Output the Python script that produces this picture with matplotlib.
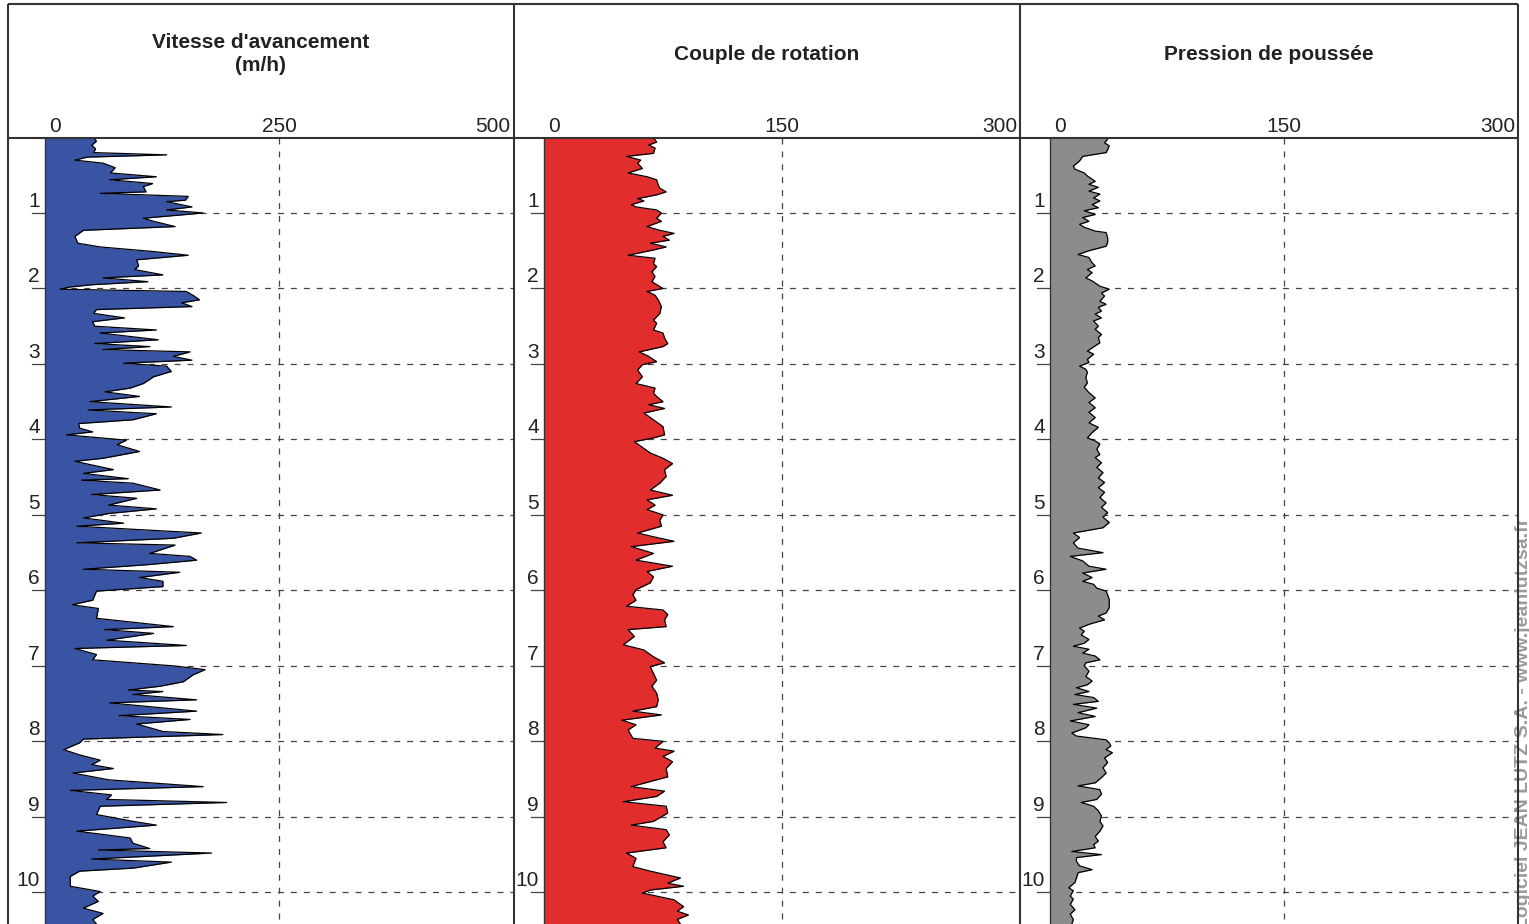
import matplotlib
matplotlib.use("Agg")
import matplotlib.pyplot as plt
from matplotlib.transforms import blended_transform_factory

plt.rcParams['font.family'] = ['Liberation Sans', 'DejaVu Sans']
plt.rcParams['lines.scale_dashes'] = False

# ---------------- data ----------------
titles = ["Vitesse d'avancement\n(m/h)", "Couple de rotation", "Pression de poussée"]
x_ticks = [[0, 250, 500], [0, 150, 300], [0, 150, 300]]
depth_ticks = [1, 2, 3, 4, 5, 6, 7, 8, 9, 10]
depth_max = 10.42

speed_depth = [0.00, 0.05, 0.10, 0.15, 0.20, 0.23, 0.26, 0.30, 0.34, 0.40, 0.47, 0.52, 0.56, 0.61,
               0.65, 0.72, 0.74, 0.78, 0.83, 0.85, 0.92, 0.96, 1.00, 1.07, 1.11, 1.18, 1.23, 1.31,
               1.40, 1.45, 1.51, 1.56, 1.62, 1.70, 1.75, 1.82, 1.86, 1.91, 1.95, 1.98, 2.01, 2.04,
               2.09, 2.15, 2.19, 2.24, 2.28, 2.33, 2.39, 2.44, 2.50, 2.55, 2.59, 2.62, 2.68, 2.73,
               2.77, 2.81, 2.84, 2.90, 2.95, 2.99, 3.03, 3.10, 3.17, 3.26, 3.32, 3.37, 3.43, 3.50,
               3.57, 3.61, 3.66, 3.74, 3.79, 3.85, 3.90, 3.94, 4.01, 4.07, 4.16, 4.25, 4.29, 4.40,
               4.45, 4.52, 4.54, 4.58, 4.67, 4.73, 4.78, 4.87, 4.92, 4.98, 5.04, 5.11, 5.15, 5.24,
               5.31, 5.37, 5.40, 5.51, 5.55, 5.60, 5.66, 5.72, 5.76, 5.83, 5.88, 5.95, 6.01, 6.13,
               6.19, 6.24, 6.37, 6.48, 6.52, 6.57, 6.66, 6.73, 6.77, 6.85, 6.92, 7.00, 7.05, 7.12,
               7.21, 7.27, 7.32, 7.34, 7.38, 7.45, 7.49, 7.60, 7.66, 7.71, 7.77, 7.87, 7.91, 7.97,
               8.02, 8.11, 8.18, 8.25, 8.31, 8.36, 8.42, 8.51, 8.60, 8.65, 8.71, 8.77, 8.81, 8.86,
               8.97, 9.06, 9.11, 9.19, 9.28, 9.35, 9.42, 9.44, 9.48, 9.56, 9.60, 9.68, 9.72, 9.79,
               9.92, 9.99, 10.05, 10.12, 10.21, 10.28, 10.36, 10.42]
speed_value = [52, 55, 50, 54, 52, 130, 45, 32, 62, 75, 70, 119, 69, 115,
               105, 108, 59, 153, 150, 130, 157, 130, 169, 105, 116, 139, 41, 32,
               35, 59, 115, 153, 98, 100, 96, 126, 62, 110, 51, 27, 16, 151,
               158, 165, 146, 157, 55, 52, 85, 51, 53, 119, 59, 80, 121, 53,
               112, 62, 155, 137, 157, 84, 130, 135, 116, 105, 91, 64, 101, 48,
               135, 46, 119, 94, 36, 37, 51, 23, 87, 77, 101, 62, 32, 73,
               41, 89, 39, 94, 123, 50, 98, 68, 119, 69, 41, 84, 34, 167,
               137, 34, 139, 112, 155, 162, 109, 41, 144, 101, 126, 126, 55, 51,
               29, 57, 55, 137, 64, 116, 66, 151, 32, 55, 51, 137, 171, 158,
               148, 123, 89, 126, 94, 162, 69, 162, 79, 155, 98, 126, 190, 41,
               37, 20, 37, 59, 50, 73, 30, 68, 169, 27, 71, 66, 194, 59,
               55, 94, 119, 34, 91, 94, 112, 57, 178, 50, 135, 94, 37, 27,
               27, 59, 51, 57, 41, 62, 51, 55]

torque_depth = [0.00, 0.06, 0.10, 0.14, 0.21, 0.25, 0.30, 0.34, 0.41, 0.47, 0.52, 0.56, 0.63, 0.67,
                0.72, 0.76, 0.81, 0.84, 0.89, 0.92, 0.96, 1.00, 1.07, 1.11, 1.18, 1.23, 1.27, 1.31,
                1.36, 1.40, 1.45, 1.49, 1.56, 1.60, 1.67, 1.71, 1.78, 1.84, 1.91, 2.00, 2.04, 2.09,
                2.15, 2.24, 2.33, 2.42, 2.46, 2.55, 2.59, 2.66, 2.73, 2.77, 2.84, 2.90, 2.97, 3.01,
                3.08, 3.17, 3.26, 3.32, 3.39, 3.43, 3.50, 3.54, 3.59, 3.65, 3.74, 3.83, 3.94, 3.98,
                4.03, 4.09, 4.18, 4.25, 4.32, 4.40, 4.49, 4.58, 4.67, 4.74, 4.80, 4.87, 4.93, 5.00,
                5.07, 5.15, 5.24, 5.29, 5.35, 5.42, 5.51, 5.60, 5.68, 5.75, 5.82, 5.90, 5.99, 6.06,
                6.13, 6.21, 6.26, 6.32, 6.39, 6.48, 6.52, 6.61, 6.72, 6.79, 6.88, 6.96, 7.01, 7.10,
                7.19, 7.27, 7.36, 7.45, 7.54, 7.60, 7.65, 7.72, 7.78, 7.85, 7.96, 8.00, 8.09, 8.13,
                8.20, 8.27, 8.36, 8.47, 8.60, 8.66, 8.73, 8.80, 8.86, 8.95, 9.06, 9.11, 9.17, 9.24,
                9.33, 9.41, 9.48, 9.55, 9.66, 9.72, 9.81, 9.88, 9.92, 9.97, 10.01, 10.10, 10.19, 10.25,
                10.30, 10.36, 10.42]
torque_value = [69, 71, 66, 70, 69, 52, 61, 59, 62, 53, 65, 71, 72, 73,
                77, 71, 59, 63, 55, 58, 71, 74, 71, 74, 65, 73, 82, 75,
                79, 67, 77, 69, 53, 70, 69, 71, 68, 70, 68, 75, 65, 70,
                72, 74, 73, 69, 71, 69, 75, 76, 78, 75, 60, 66, 71, 62,
                59, 62, 58, 70, 69, 71, 75, 66, 76, 63, 69, 75, 76, 69,
                57, 61, 67, 75, 81, 76, 77, 73, 67, 81, 65, 70, 65, 75,
                73, 74, 59, 69, 82, 55, 69, 58, 81, 65, 69, 67, 58, 56,
                58, 52, 75, 78, 76, 77, 53, 57, 50, 63, 69, 76, 67, 69,
                71, 68, 71, 72, 71, 56, 74, 49, 58, 53, 56, 75, 70, 82,
                75, 81, 77, 78, 55, 76, 71, 50, 77, 78, 69, 55, 77, 79,
                75, 77, 52, 58, 56, 67, 86, 78, 88, 67, 62, 82, 88, 84,
                91, 84, 86]

thrust_depth = [0.00, 0.02, 0.07, 0.11, 0.16, 0.20, 0.25, 0.31, 0.38, 0.42, 0.47, 0.51, 0.58, 0.62,
                0.66, 0.71, 0.75, 0.80, 0.84, 0.89, 0.93, 0.97, 1.02, 1.06, 1.11, 1.15, 1.19, 1.24,
                1.26, 1.33, 1.39, 1.44, 1.50, 1.55, 1.59, 1.66, 1.70, 1.75, 1.79, 1.86, 1.90, 1.97,
                2.01, 2.06, 2.10, 2.17, 2.21, 2.25, 2.30, 2.34, 2.39, 2.43, 2.50, 2.54, 2.61, 2.65,
                2.72, 2.76, 2.83, 2.87, 2.94, 2.98, 3.03, 3.07, 3.11, 3.18, 3.25, 3.31, 3.38, 3.45,
                3.51, 3.58, 3.64, 3.71, 3.78, 3.84, 3.91, 3.98, 4.02, 4.06, 4.13, 4.20, 4.24, 4.31,
                4.37, 4.44, 4.51, 4.57, 4.64, 4.70, 4.77, 4.84, 4.90, 4.97, 5.03, 5.10, 5.17, 5.24,
                5.30, 5.37, 5.44, 5.50, 5.55, 5.61, 5.68, 5.72, 5.77, 5.83, 5.88, 5.92, 5.97, 6.01,
                6.06, 6.12, 6.23, 6.30, 6.34, 6.39, 6.45, 6.50, 6.54, 6.59, 6.65, 6.70, 6.74, 6.78,
                6.83, 6.87, 6.92, 6.96, 7.00, 7.07, 7.14, 7.20, 7.25, 7.29, 7.34, 7.38, 7.42, 7.47,
                7.51, 7.56, 7.62, 7.67, 7.73, 7.78, 7.82, 7.89, 7.93, 7.98, 8.02, 8.06, 8.11, 8.15,
                8.22, 8.28, 8.35, 8.42, 8.48, 8.55, 8.59, 8.64, 8.70, 8.77, 8.81, 8.86, 8.92, 8.99,
                9.06, 9.12, 9.19, 9.26, 9.32, 9.37, 9.41, 9.46, 9.50, 9.54, 9.59, 9.65, 9.70, 9.74,
                9.81, 9.87, 9.94, 9.98, 10.05, 10.09, 10.16, 10.23, 10.29, 10.36, 10.42]
thrust_value = [37, 37, 35, 38, 37, 36, 21, 19, 15, 16, 22, 24, 29, 25,
                31, 25, 32, 28, 32, 27, 31, 22, 29, 21, 25, 19, 22, 29,
                36, 37, 37, 36, 25, 18, 25, 27, 29, 24, 27, 23, 27, 32,
                38, 33, 35, 32, 36, 31, 33, 29, 33, 28, 31, 29, 33, 31,
                32, 29, 24, 28, 24, 25, 19, 23, 24, 23, 24, 22, 25, 29,
                25, 29, 25, 29, 25, 31, 27, 24, 29, 32, 30, 32, 29, 33,
                30, 34, 31, 35, 31, 35, 32, 36, 33, 37, 34, 38, 34, 15,
                19, 15, 18, 34, 13, 21, 25, 36, 21, 27, 21, 28, 30, 36,
                37, 38, 38, 36, 31, 35, 25, 19, 22, 20, 25, 22, 15, 25,
                21, 29, 32, 23, 22, 25, 23, 27, 24, 17, 25, 16, 28, 31,
                15, 30, 18, 29, 13, 25, 23, 14, 17, 36, 38, 39, 36, 40,
                35, 37, 34, 36, 33, 29, 18, 32, 33, 30, 20, 28, 31, 33,
                32, 34, 32, 29, 31, 28, 29, 14, 33, 17, 17, 19, 27, 18,
                17, 16, 12, 15, 13, 15, 13, 16, 13, 15, 14]

series_depth = [speed_depth, torque_depth, thrust_depth]
series_value = [speed_value, torque_value, thrust_value]
fill_colors = ["#3a54a4", "#e22d2d", "#8c8c8c"]

# ---------------- layout (figure pixels) ----------------
W, H = 1529, 924
frame_top, header_bottom = 4, 137.5
panel_edges = [(8, 514), (514, 1020), (1020, 1518)]
x_limits = [(-39.5, 501), (-18.9, 300), (-19.2, 300)]
ink = "#222222"
grid_col = "#444444"
dash = (4.3, 5.0)

fig = plt.figure(figsize=(W / 100, H / 100), dpi=100)

# overlay for frame lines and header texts, in pixel units
ov = fig.add_axes([0, 0, 1, 1], zorder=5)
ov.set_xlim(0, W)
ov.set_ylim(H, 0)
ov.axis("off")
ov.patch.set_alpha(0)

for i, ((x0, x1), xl) in enumerate(zip(panel_edges, x_limits)):
    ax = fig.add_axes([x0 / W, 0, (x1 - x0) / W, (H - header_bottom) / H])
    ax.set_xlim(*xl)
    ax.set_ylim(depth_max, 0)
    ax.axis("off")

    px_per_unit = (x1 - x0) / (xl[1] - xl[0])
    stub = -13 / px_per_unit

    # depth grid
    for d in depth_ticks:
        ax.plot([stub, 0], [d, d], color=grid_col, lw=0.9, zorder=1)
        ax.plot([0, xl[1]], [d, d], color=grid_col, lw=0.9, dashes=dash, zorder=1)
        ax.annotate(str(d), xy=(0, d), xytext=(-5, 6), textcoords="offset pixels",
                    ha="right", va="baseline", fontsize=15, color=ink)
    ax.plot([x_ticks[i][1]] * 2, [0, depth_max], color=grid_col, lw=0.9, dashes=dash, zorder=1)

    # profile
    dep = series_depth[i]
    val = series_value[i]
    ax.fill_betweenx(dep, 0, val, color=fill_colors[i], lw=0, zorder=2)
    ax.plot(val, dep, color="black", lw=0.9, zorder=3)
    ax.plot([0, 0], [0, depth_max], color="#333333", lw=1.0, zorder=3)

    # header texts
    cx = (x0 + x1) / 2
    ov.text(cx, 54, titles[i], ha="center", va="center", fontsize=15,
            fontweight="bold", color=ink, linespacing=1.3)
    tr = blended_transform_factory(ax.transData, ov.transData)
    t0, t1, t2 = x_ticks[i]
    ov.annotate(str(t0), xy=(t0, 132), xycoords=tr, xytext=(4, 0), textcoords="offset pixels",
                ha="left", va="baseline", fontsize=15, color=ink)
    ov.annotate(str(t1), xy=(t1, 132), xycoords=tr, ha="center", va="baseline",
                fontsize=15, color=ink)
    ov.annotate(str(t2), xy=(t2, 132), xycoords=tr, xytext=(-3, 0), textcoords="offset pixels",
                ha="right", va="baseline", fontsize=15, color=ink)

# frame
frame_kw = dict(color="#333333", lw=1.5, solid_capstyle="butt")
ov.plot([8, 1518], [frame_top, frame_top], **frame_kw)
ov.plot([8, 1518], [header_bottom, header_bottom], **frame_kw)
for xv in (8, 514, 1020, 1518):
    ov.plot([xv, xv], [frame_top, H], **frame_kw)

fig.text(1524 / W, 1 - 518 / H, "Logiciel JEAN LUTZ S.A. - www.jeanlutzsa.fr",
         rotation=90, ha="center", va="top", fontsize=14, fontweight="bold", color="#9a9a9a")

fig.savefig("out.png", dpi=100)
